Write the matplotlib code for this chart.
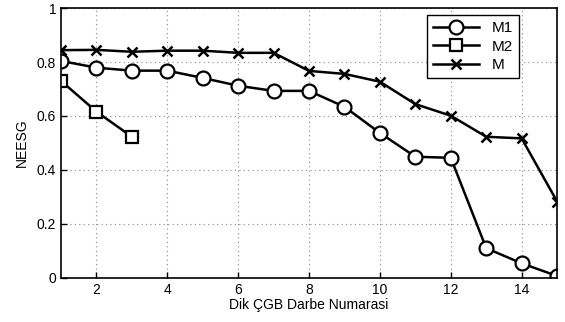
import matplotlib
matplotlib.use("Agg")
import matplotlib.pyplot as plt

plt.rcParams['font.family'] = ['Liberation Sans', 'DejaVu Sans']

# Veriler
x_m1 = [1, 2, 3, 4, 5, 6, 7, 8, 9, 10, 11, 12, 13, 14, 15]
m1 = [0.804, 0.779, 0.768, 0.768, 0.741, 0.712, 0.693, 0.693, 0.634, 0.537,
      0.449, 0.445, 0.110, 0.054, 0.007]
x_m2 = [1, 2, 3]
m2 = [0.730, 0.616, 0.523]
x_m = [1, 2, 3, 4, 5, 6, 7, 8, 9, 10, 11, 12, 13, 14, 15]
m = [0.844, 0.845, 0.838, 0.842, 0.842, 0.834, 0.834, 0.767, 0.756, 0.727,
     0.644, 0.601, 0.523, 0.517, 0.283]

fig = plt.figure(figsize=(5.65, 3.22), dpi=100)
ax = fig.add_axes([0.108, 0.137, 0.878, 0.838])

ax.plot(x_m1, m1, color='k', lw=1.8, marker='o', ms=10, mfc='white', mec='k', mew=1.6, label='M1')
ax.plot(x_m2, m2, color='k', lw=1.8, marker='s', ms=8, mfc='white', mec='k', mew=1.6, label='M2')
ax.plot(x_m, m, color='k', lw=1.8, marker='x', ms=7, mec='k', mew=1.8, label='M')

ax.set_xlim(1, 15)
ax.set_ylim(0, 1)
ax.set_xticks([2, 4, 6, 8, 10, 12, 14])
ax.set_yticks([0, 0.2, 0.4, 0.6, 0.8, 1])
ax.set_yticklabels(['0', '0.2', '0.4', '0.6', '0.8', '1'])
ax.grid(True, linestyle=(0, (1, 3)), color='#888888', lw=0.8)
ax.tick_params(direction='in', labelsize=10, length=4, width=1)
for s in ax.spines.values():
    s.set_linewidth(1.2)

ax.set_xlabel('Dik ÇGB Darbe Numarasi', fontsize=10, labelpad=1)
ax.set_ylabel('NEESG', fontsize=10, labelpad=6)

leg = ax.legend(loc='upper right', bbox_to_anchor=(0.923, 0.974), borderaxespad=0,
                fontsize=11, fancybox=False, edgecolor='k',
                framealpha=1, handlelength=3, labelspacing=0.3)
leg.get_frame().set_linewidth(1)

fig.savefig('out.png', dpi=100)
